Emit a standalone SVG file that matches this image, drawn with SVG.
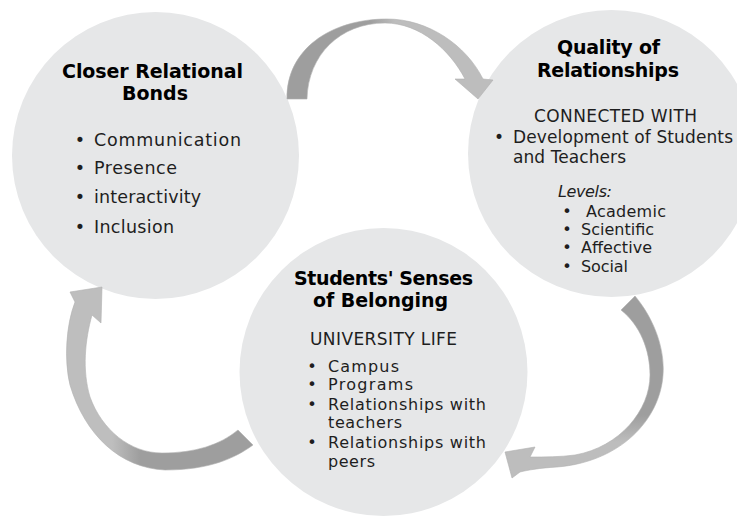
<svg xmlns="http://www.w3.org/2000/svg" width="737" height="518" viewBox="0 0 737 518">
<defs>
<style>
.circle{fill:#e6e7e8}
.title{font-family:"DejaVu Sans",sans-serif;font-weight:bold;font-size:19px;fill:#000}
.b17{font-family:"DejaVu Sans",sans-serif;font-size:17.5px;fill:#1e1e1e}
.b16{font-family:"DejaVu Sans",sans-serif;font-size:17px;fill:#1e1e1e}
.b15{font-family:"DejaVu Sans",sans-serif;font-size:16px;fill:#1e1e1e}
.it{font-style:italic}
.arrow{stroke:#b0b0b0;stroke-width:0.6}
</style>
<linearGradient id="g1" gradientUnits="userSpaceOnUse" x1="370" y1="0" x2="395" y2="0">
<stop offset="0" stop-color="#9e9e9e"/><stop offset="1" stop-color="#bdbdbd"/>
</linearGradient>
<linearGradient id="g2" gradientUnits="userSpaceOnUse" x1="0" y1="415" x2="0" y2="442">
<stop offset="0" stop-color="#9e9e9e"/><stop offset="1" stop-color="#bdbdbd"/>
</linearGradient>
<linearGradient id="g3" gradientUnits="userSpaceOnUse" x1="140" y1="0" x2="112" y2="0">
<stop offset="0" stop-color="#9e9e9e"/><stop offset="1" stop-color="#bebebe"/>
</linearGradient>
</defs>
<rect width="737" height="518" fill="#ffffff"/>

<g id="node-closer-relational-bonds">
<circle class="circle" cx="155.5" cy="155.5" r="143.5"/>
<text class="title" x="62" y="78" textLength="181">Closer Relational</text>
<text class="title" x="122" y="100" textLength="66">Bonds</text>
<text class="b17"><tspan x="74.8" y="146">•</tspan><tspan x="94" y="146" textLength="147">Communication</tspan></text>
<text class="b17"><tspan x="74.8" y="174">•</tspan><tspan x="94" y="174" textLength="83">Presence</tspan></text>
<text class="b17"><tspan x="74.8" y="203">•</tspan><tspan x="94" y="203" textLength="107">interactivity</tspan></text>
<text class="b17"><tspan x="74.8" y="233">•</tspan><tspan x="94" y="233" textLength="80">Inclusion</tspan></text>
</g>

<g id="node-quality-of-relationships">
<circle class="circle" cx="611.5" cy="153.5" r="143.5"/>
<text class="title" x="557" y="54" textLength="103">Quality of</text>
<text class="title" x="537" y="77" textLength="142">Relationships</text>
<text class="b16" x="534" y="122" textLength="163">CONNECTED WITH</text>
<text class="b16"><tspan x="494" y="143">•</tspan><tspan x="513" y="143" textLength="220">Development of Students</tspan></text>
<text class="b16" x="513" y="163" textLength="113">and Teachers</text>
<text class="b15 it" x="558" y="197" textLength="54">Levels:</text>
<text class="b15"><tspan x="562.3" y="217">•</tspan><tspan x="586" y="217" textLength="80">Academic</tspan></text>
<text class="b15"><tspan x="562.3" y="235">•</tspan><tspan x="581" y="235" textLength="73">Scientific</tspan></text>
<text class="b15"><tspan x="562.3" y="253">•</tspan><tspan x="581" y="253" textLength="71">Affective</tspan></text>
<text class="b15"><tspan x="562.3" y="272">•</tspan><tspan x="581" y="272" textLength="47">Social</tspan></text>
</g>

<g id="node-students-senses-of-belonging">
<circle class="circle" cx="383.5" cy="372" r="144"/>
<text class="title" x="294" y="285" textLength="179">Students' Senses</text>
<text class="title" x="313" y="307" textLength="135">of Belonging</text>
<text class="b16" x="310" y="345" textLength="147">UNIVERSITY LIFE</text>
<text class="b15"><tspan x="307.3" y="372">•</tspan><tspan x="328" y="372" textLength="71">Campus</tspan></text>
<text class="b15"><tspan x="307.3" y="390">•</tspan><tspan x="328" y="390" textLength="85">Programs</tspan></text>
<text class="b15"><tspan x="307.3" y="410">•</tspan><tspan x="328" y="410" textLength="158">Relationships with</tspan></text>
<text class="b15" x="328" y="428" textLength="74">teachers</text>
<text class="b15"><tspan x="307.3" y="448">•</tspan><tspan x="328" y="448" textLength="158">Relationships with</tspan></text>
<text class="b15" x="328" y="467" textLength="47">peers</text>
</g>

<g id="connectors">
<path class="arrow" fill="url(#g1)" d="M287,99 C286,50 330,19 387,19 C428,19 466,45 483,79 L493,80 L478,99 L455,79 L465,79 C450,50 420,23 385,23 C340,23 308,55 307,99 Z"/>
<path class="arrow" fill="url(#g2)" d="M635,296 C655,320 665,350 663,375 C660,420 620,462 557,467 C540,468 528,470 520,472 L512,478 L505,452 L535,447 L530,457 C545,457 560,457 575,455 C620,447 650,410 650,375 C650,350 640,325 621,310 Z"/>
<path class="arrow" fill="url(#g3)" d="M253,445 C235,458 210,470 165,470 C120,468 85,435 70,385 C64,360 66,325 75,302 L70,292 L102,287 L101,323 L92,315 C85,340 82,370 90,397 C102,430 130,453 162,453 C195,453 220,445 238,430 Z"/>
</g>
</svg>
